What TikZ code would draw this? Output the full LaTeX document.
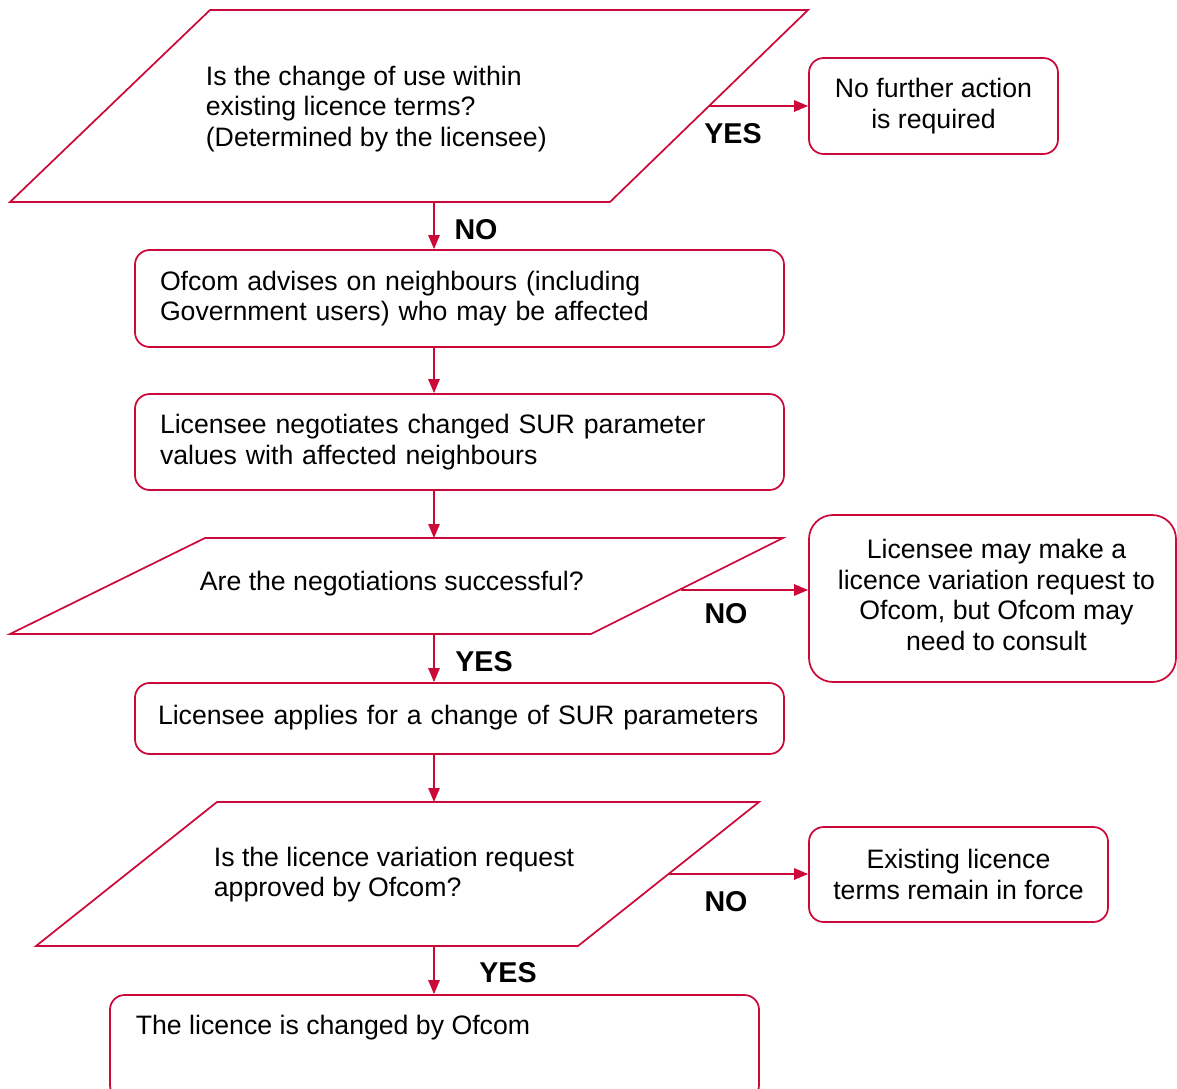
\documentclass[tikz,border=0pt]{standalone}
\usepackage{fontspec}
\setmainfont{Liberation Sans}
\usetikzlibrary{arrows.meta}
\definecolor{ofred}{RGB}{204,10,58}
\begin{document}
\begin{tikzpicture}[x=0.75pt,y=-0.75pt,
  line width=1.3pt,
  font=\fontsize{20}{23}\selectfont,
  decision/.style={draw=ofred, line join=miter},
  box/.style={draw=ofred, rounded corners=11pt, inner ysep=0pt},
  lbox/.style={box, align=left, inner xsep=18.75pt},
  cbox/.style={box, align=center, inner xsep=0pt},
  qtext/.style={anchor=west, align=left, inner sep=0pt},
  conn/.style={draw=ofred, -{Triangle[length=10.5pt,width=8.5pt]}},
  lbl/.style={font=\fontsize{21.5}{24}\selectfont\bfseries, inner sep=0pt},
]
\clip (0,0) rectangle (1177,1088);

% decision 1
\draw[decision] (210,10) -- (808,10) -- (610,202) -- (10,202) -- cycle;
\node[qtext] (q1) at (205,109) {Is the change of use within\\existing licence terms?\\(Determined by the licensee)};
\coordinate (q1r) at (709,106);
\coordinate (q1b) at (434,202);

\node[cbox, minimum width=186.75pt, minimum height=72pt] (b1) at (933.5,106) {No further action\\is required};

\node[lbox, text width=449.25pt, minimum height=72.75pt] (b2) at (459.5,298.5) {Ofcom advises on neighbours (including\\Government users) who may be affected};
\node[lbox, text width=449.25pt, minimum height=72pt] (b3) at (459.5,442) {Licensee negotiates changed SUR parameter\\values with affected neighbours};

% decision 2
\draw[decision] (205,538) -- (783,538) -- (591,634) -- (10,634) -- cycle;
\node[qtext] (q2) at (199,584) {Are the negotiations successful?};
\coordinate (q2t) at (434,538);
\coordinate (q2r) at (681,590);
\coordinate (q2b) at (434,634);

\node[cbox, minimum width=275.25pt, minimum height=125.25pt, rounded corners=18pt] (b4) at (992.5,598.5) {\raisebox{7.5pt}{\hspace{6pt}\begin{tabular}{@{}c@{}}Licensee may make a\\licence variation request to\\Ofcom, but Ofcom may\\need to consult\end{tabular}}};

\node[box, align=left, inner xsep=17.25pt, text width=452.25pt, minimum height=53.25pt] (b5) at (459.5,718.5) {\raisebox{6pt}{Licensee applies for a change of SUR parameters}};

% decision 3
\draw[decision] (217,802) -- (759,802) -- (578,946) -- (36,946) -- cycle;
\node[qtext] (q3) at (213,874.5) {Is the licence variation request\\approved by Ofcom?};
\coordinate (q3t) at (434,802);
\coordinate (q3r) at (668,874);
\coordinate (q3b) at (434,946);

\node[cbox, minimum width=224.25pt, minimum height=71.25pt] (b6) at (958.5,874.5) {Existing licence\\terms remain in force};

\node[box, minimum width=486.75pt, minimum height=78.75pt] (b7) at (434.5,1047.5) {};
\node[qtext] (t7) at (135,1028) {The licence is changed by Ofcom};

% connectors
\draw[conn] (q1r) -- (q1r -| b1.west);
\draw[conn] (q1b) -- (q1b |- b2.north);
\draw[conn] (q1b |- b2.south) -- (q1b |- b3.north);
\draw[conn] (q1b |- b3.south) -- (q2t);
\draw[conn] (q2r) -- (q2r -| b4.west);
\draw[conn] (q2b) -- (q2b |- b5.north);
\draw[conn] (q2b |- b5.south) -- (q3t);
\draw[conn] (q3r) -- (q3r -| b6.west);
\draw[conn] (q3b) -- (q3b |- b7.north);

% labels
\node[lbl] (l1) at (733,134) {YES};
\node[lbl] (l2) at (476,230) {NO};
\node[lbl] (l3) at (726,614) {NO};
\node[lbl] (l4) at (484,662) {YES};
\node[lbl] (l5) at (726,902) {NO};
\node[lbl] (l6) at (508,973) {YES};
\end{tikzpicture}
\end{document}
